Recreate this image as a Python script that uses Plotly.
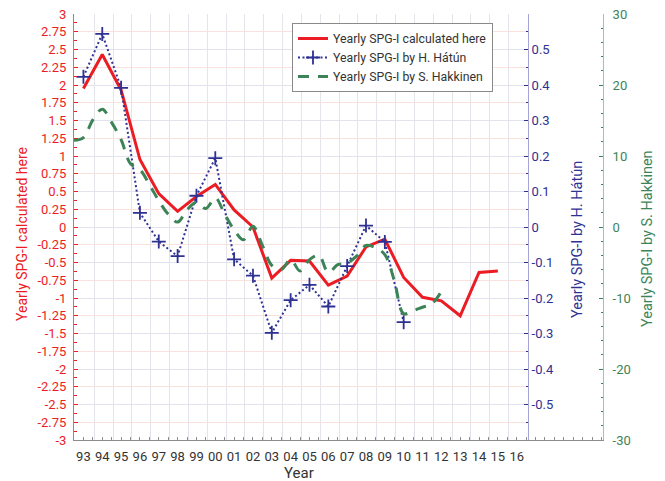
import numpy as np
import plotly.graph_objects as go

# ---------------- data ----------------
red_years = list(range(1993, 2016))
red_values = [1.95, 2.43, 1.93, 0.95, 0.47, 0.22, 0.43, 0.60, 0.24, 0.00, -0.72, -0.47,
              -0.48, -0.82, -0.69, -0.28, -0.17, -0.71, -0.99, -1.04, -1.25, -0.64, -0.62]

blue_years = list(range(1993, 2011))
blue_values = [0.423, 0.544, 0.392, 0.040, -0.041, -0.082, 0.088, 0.194, -0.091, -0.137,
               -0.298, -0.206, -0.163, -0.224, -0.110, 0.004, -0.042, -0.268]

green_times = [1992.5, 1993, 1993.5, 1994, 1994.5, 1995, 1995.5, 1996, 1996.5, 1997,
               1997.5, 1998, 1998.5, 1999, 1999.5, 2000, 2000.5, 2001, 2001.5, 2002,
               2002.5, 2003, 2003.5, 2004, 2004.5, 2005, 2005.5, 2006, 2006.5, 2007,
               2007.5, 2008, 2008.5, 2009, 2009.5, 2010, 2010.5, 2011, 2011.5, 2012]
green_values = [12.2, 12.6, 15.1, 16.6, 14.7, 12.3, 8.9, 8.1, 6.0, 3.7,
                1.8, 0.7, 2.4, 3.5, 2.6, 4.1, 1.8, -0.4, -1.8, 0.1,
                -2.6, -5.4, -6.0, -4.6, -6.2, -4.6, -4.0, -6.4, -5.3, -5.1,
                -4.1, -2.6, -2.9, -3.9, -7.5, -12.2, -11.8, -11.3, -10.8, -9.1]

x_tick_years = list(range(1993, 2017))
x_tick_labels = ["93", "94", "95", "96", "97", "98", "99", "00", "01", "02", "03", "04",
                 "05", "06", "07", "08", "09", "10", "11", "12", "13", "14", "15", "16"]

left_tick_vals = [3, 2.75, 2.5, 2.25, 2, 1.75, 1.5, 1.25, 1, 0.75, 0.5, 0.25, 0,
                  -0.25, -0.5, -0.75, -1, -1.25, -1.5, -1.75, -2, -2.25, -2.5, -2.75, -3]
left_tick_text = ["3", "2.75", "2.5", "2.25", "2", "1.75", "1.5", "1.25", "1", "0.75", "0.5",
                  "0.25", "0", "-0.25", "-0.5", "-0.75", "-1", "-1.25", "-1.5", "-1.75", "-2",
                  "-2.25", "-2.5", "-2.75", "-3"]
blue_tick_vals = [0.5, 0.4, 0.3, 0.2, 0.1, 0, -0.1, -0.2, -0.3, -0.4, -0.5]
blue_tick_text = ["0.5", "0.4", "0.3", "0.2", "0.1", "0", "-0.1", "-0.2", "-0.3", "-0.4", "-0.5"]
green_tick_vals = [30, 20, 10, 0, -10, -20, -30]
green_tick_text = ["30", "20", "10", "0", "-10", "-20", "-30"]

# ---------------- style / geometry ----------------
W, H = 665, 481
PL, PT, PB = 74, 14, 440
X_BLUE, X_GREEN = 528, 603
X0, X1 = 1992.5, 2016.6
px_per_year = (X_BLUE - PL) / (X1 - X0)
X1_ext = X0 + (X_GREEN - PL) / px_per_year
PW = X_GREEN - PL
PH = PB - PT

RED = "#ec1c24"
BLUE = "#2e3192"
GREEN = "#3c8457"
FONT = "Roboto"

fig = go.Figure()
fig.add_trace(go.Scatter(x=red_years, y=red_values, mode="lines",
                         name="Yearly SPG-I calculated here",
                         line=dict(color=RED, width=3), xaxis="x", yaxis="y"))
fig.add_trace(go.Scatter(x=blue_years, y=blue_values, mode="lines+markers",
                         name="Yearly SPG-I by H. Hátún",
                         line=dict(color=BLUE, width=2, dash="2px,2.5px"),
                         marker=dict(symbol="cross-thin", size=10, color=BLUE,
                                     line=dict(color=BLUE, width=1.8)),
                         xaxis="x", yaxis="y2"))
fig.add_trace(go.Scatter(x=green_times, y=green_values, mode="lines",
                         name="Yearly SPG-I by S. Hakkinen",
                         line=dict(color=GREEN, width=3, dash="11px,9px", shape="spline"),
                         xaxis="x2", yaxis="y3"))

dom_main = (X_BLUE - PL) / PW
minor_left = [v for v in np.arange(-3, 3.001, 0.125)]
minor_blue = [v for v in np.arange(-0.55, 0.5501, 0.05)]
minor_green = [v for v in np.arange(-28, 29, 2)]
grid_x = [y + 0.57 for y in x_tick_years[:-1]]


def px_x(x):
    return (x - PL) / PW


def px_y(y):
    return (PB - y) / PH


fig.update_layout(
    width=W, height=H,
    margin=dict(l=PL, r=W - X_GREEN, t=PT, b=H - PB, autoexpand=False),
    paper_bgcolor="white", plot_bgcolor="rgba(0,0,0,0)",
    font=dict(family=FONT, size=13, color="#333333"),
    showlegend=True,
    legend=dict(x=px_x(292), y=px_y(23),
                xanchor="left", yanchor="top", bgcolor="white",
                bordercolor="#8a8a8a", borderwidth=1,
                font=dict(family=FONT, size=12.3, color="#333333"),
                tracegroupgap=0),
    xaxis=dict(domain=[0, dom_main], anchor="y", range=[X0, X1],
               tickmode="array", tickvals=x_tick_years, ticktext=x_tick_labels,
               ticks="", showgrid=False, zeroline=False, showline=True,
               linecolor="#8c8c8c", tickfont=dict(size=13, color="#333333"),
               ticklabelstandoff=4,
               minor=dict(tickmode="array", tickvals=grid_x, showgrid=True,
                          gridcolor="#e4e4ea", gridwidth=1, ticks="")),
    xaxis2=dict(domain=[0, 1], anchor="y3", range=[X0, X1_ext],
                tickmode="linear", tick0=1993, dtick=0.5, ticks="inside", ticklen=3.5,
                tickcolor="#8c8c8c", showticklabels=False, showgrid=False, zeroline=False,
                showline=True, linecolor="#8c8c8c"),
    yaxis=dict(range=[-3, 3], anchor="x", tickmode="array", tickvals=left_tick_vals,
               ticktext=left_tick_text, ticks="inside", ticklen=4, tickcolor=RED,
               tickfont=dict(size=13, color=RED), showline=True, linecolor="#8c8c8c",
               showgrid=True, gridcolor="#fbe1dd", zeroline=False, ticklabelstandoff=4,
               minor=dict(tickmode="array", tickvals=minor_left, ticks="inside",
                          ticklen=2.5, tickcolor=RED, showgrid=False)),
    yaxis2=dict(range=[-0.6, 0.6], overlaying="y", side="right", anchor="x",
                tickmode="array", tickvals=blue_tick_vals, ticktext=blue_tick_text,
                ticks="inside", ticklen=4, tickcolor=BLUE,
                tickfont=dict(size=13, color=BLUE), showline=True, linecolor="#a5a5d8",
                showgrid=True, gridcolor="#e3e3f0", zeroline=False, ticklabelstandoff=0,
                minor=dict(tickmode="array", tickvals=minor_blue, ticks="inside",
                           ticklen=2.5, tickcolor=BLUE, showgrid=False)),
    yaxis3=dict(domain=[0, 1], range=[-30, 30], anchor="x2", side="right",
                tickmode="array", tickvals=green_tick_vals, ticktext=green_tick_text,
                ticks="inside", ticklen=4, tickcolor=GREEN,
                tickfont=dict(size=13, color=GREEN), showline=True, linecolor="#9cc8aa",
                showgrid=False, zeroline=False, ticklabelstandoff=6,
                minor=dict(tickmode="array", tickvals=minor_green, ticks="inside",
                           ticklen=2.5, tickcolor=GREEN, showgrid=False)),
    annotations=[
        dict(text="Year", xref="paper", yref="paper",
             x=px_x(299), y=px_y(473), xanchor="center", yanchor="middle",
             showarrow=False, font=dict(size=15, color="#333333")),
        dict(text="Yearly SPG-I calculated here", xref="paper", yref="paper",
             x=px_x(22), y=px_y(234), xanchor="center", yanchor="middle",
             textangle=-90, showarrow=False, font=dict(size=14, color=RED)),
        dict(text="Yearly SPG-I by H. Hátún", xref="paper", yref="paper",
             x=px_x(577), y=px_y(240), xanchor="center", yanchor="middle",
             textangle=-90, showarrow=False, font=dict(size=14.5, color=BLUE)),
        dict(text="Yearly SPG-I by S. Hakkinen", xref="paper", yref="paper",
             x=px_x(648), y=px_y(239), xanchor="center", yanchor="middle",
             textangle=-90, showarrow=False, font=dict(size=14.5, color=GREEN)),
    ],
)

fig.write_html("out.html", config={"displayModeBar": False},
               post_script="document.body.style.margin='0';")
